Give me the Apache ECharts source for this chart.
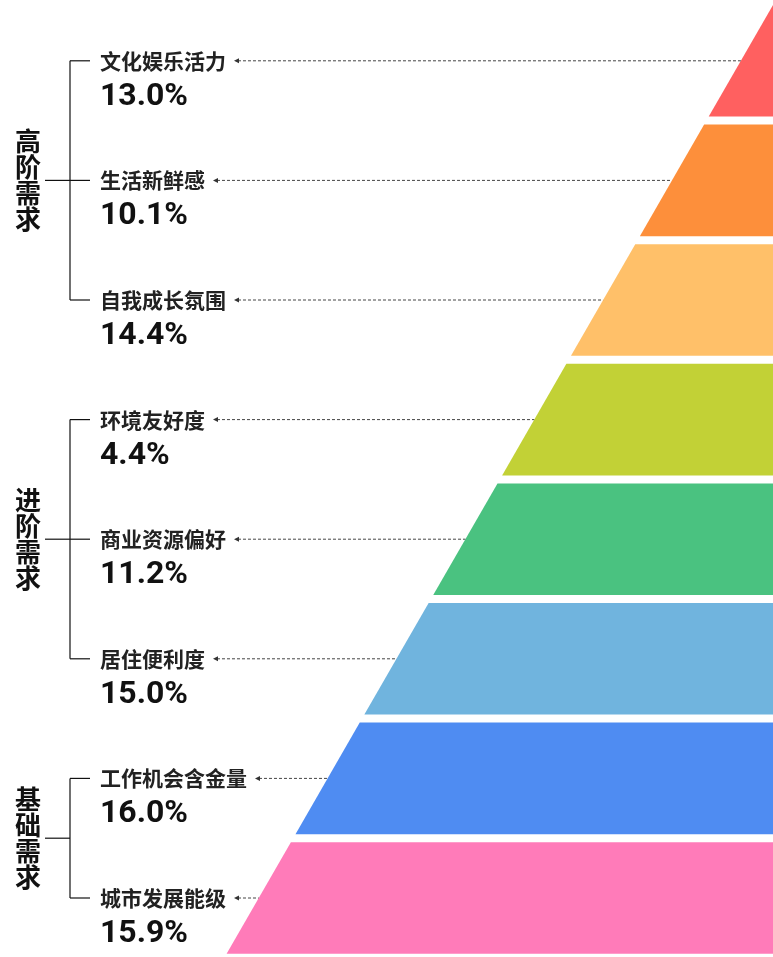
<!DOCTYPE html>
<html>
<head>
<meta charset="utf-8">
<style>
  html, body { margin: 0; padding: 0; background: #fff; }
  #main { width: 773px; height: 957px; }
</style>
<script src="https://cdn.jsdelivr.net/npm/echarts@6/dist/echarts.min.js"></script>
</head>
<body>
<div id="main"></div>
<script>
// 需求层级（自上而下）
const levels = ['文化娱乐活力', '生活新鲜感', '自我成长氛围', '环境友好度', '商业资源偏好', '居住便利度', '工作机会含金量', '城市发展能级'];
const shares = [13.0, 10.1, 14.4, 4.4, 11.2, 15.0, 16.0, 15.9];
const colors = ['#ff6060', '#fd8f3b', '#ffc069', '#c2d136', '#4ac280', '#70b4de', '#4f8cf2', '#ff7bb9'];

const groupNames = ['高阶需求', '进阶需求', '基础需求'];
const groupFirst = [0, 3, 6];
const groupLast = [2, 5, 7];

const LAYERS = levels.length;
const UNIT = 119.6;          // 每层（含间隙）像素高度
const GAP = 8 / UNIT;
const NAME_FONT = 'bold 21px "Noto Sans CJK SC"';
const PCT_FONT = 'bold 32px Roboto';
const GROUP_FONT = 'bold 26px "Noto Sans CJK SC"';
const TEXT_X = 100;

const ctx = document.createElement('canvas').getContext('2d');
function textWidth(text, font) {
  ctx.font = font;
  return ctx.measureText(text).width;
}

function renderLayer(params, api) {
  const i = api.value(0);
  const yTop = i;
  const yBot = i + 1 - GAP;
  const yMid = (yTop + yBot) / 2;
  const pts = [
    [1 - yTop / LAYERS, yTop],
    [1, yTop],
    [1, yBot],
    [1 - yBot / LAYERS, yBot]
  ].map(p => api.coord(p));
  const edge = api.coord([1 - yMid / LAYERS, yMid]);
  const y = edge[1];
  const arrowX = TEXT_X + textWidth(levels[i], NAME_FONT) + 8;
  return {
    type: 'group',
    children: [
      { type: 'polygon', shape: { points: pts }, style: { fill: colors[i] } },
      {
        type: 'line',
        shape: { x1: arrowX + 4, y1: y, x2: edge[0], y2: y },
        style: { stroke: '#444', lineWidth: 1, lineDash: [3, 2] }
      },
      {
        type: 'polygon',
        shape: { points: [[arrowX, y], [arrowX + 5, y - 2.5], [arrowX + 5, y + 2.5]] },
        style: { fill: '#333' }
      },
      {
        type: 'text',
        style: {
          text: levels[i], x: TEXT_X, y: y, font: NAME_FONT, fill: '#222',
          textAlign: 'left', textVerticalAlign: 'middle'
        }
      },
      {
        type: 'text',
        style: {
          text: shares[i].toFixed(1) + '%', x: TEXT_X, y: y + 36, font: PCT_FONT, fill: '#111',
          textAlign: 'left', textVerticalAlign: 'middle'
        }
      }
    ]
  };
}

function renderGroup(params, api) {
  const k = params.dataIndex;
  const ys = [];
  for (let i = groupFirst[k]; i <= groupLast[k]; i++) {
    ys.push(api.coord([0, i + (1 - GAP) / 2])[1]);
  }
  const top = ys[0];
  const bot = ys[ys.length - 1];
  const mid = (top + bot) / 2;
  const lineStyle = { stroke: '#111', lineWidth: 1.2 };
  const children = [
    { type: 'line', shape: { x1: 70, y1: top, x2: 70, y2: bot }, style: lineStyle },
    { type: 'line', shape: { x1: 45, y1: mid, x2: 70, y2: mid }, style: lineStyle },
    {
      type: 'text',
      style: {
        text: groupNames[k].split('').join('\n'), x: 28, y: mid, font: GROUP_FONT,
        lineHeight: 26, fill: '#111', textAlign: 'center', textVerticalAlign: 'middle'
      }
    }
  ];
  ys.forEach(yy => {
    children.push({ type: 'line', shape: { x1: 70, y1: yy, x2: 90, y2: yy }, style: lineStyle });
  });
  return { type: 'group', children: children };
}

const chart = echarts.init(document.getElementById('main'));
chart.setOption({
  animation: false,
  grid: { left: 222, right: 0, top: 5, bottom: 0 },
  xAxis: { type: 'value', min: 0, max: 1, show: false },
  // 网格高 952px，按每层 UNIT 像素折算最后一层可略超出底边
  yAxis: { type: 'value', min: 0, max: 952 / UNIT, inverse: true, show: false },
  series: [
    {
      type: 'custom',
      clip: false,
      renderItem: renderLayer,
      data: levels.map((name, i) => [i, shares[i]])
    },
    {
      type: 'custom',
      clip: false,
      renderItem: renderGroup,
      data: groupNames.map((name, k) => [groupFirst[k], groupLast[k]])
    }
  ]
});

window.addEventListener('resize', () => {
  chart.resize();
});
</script>
</body>
</html>
